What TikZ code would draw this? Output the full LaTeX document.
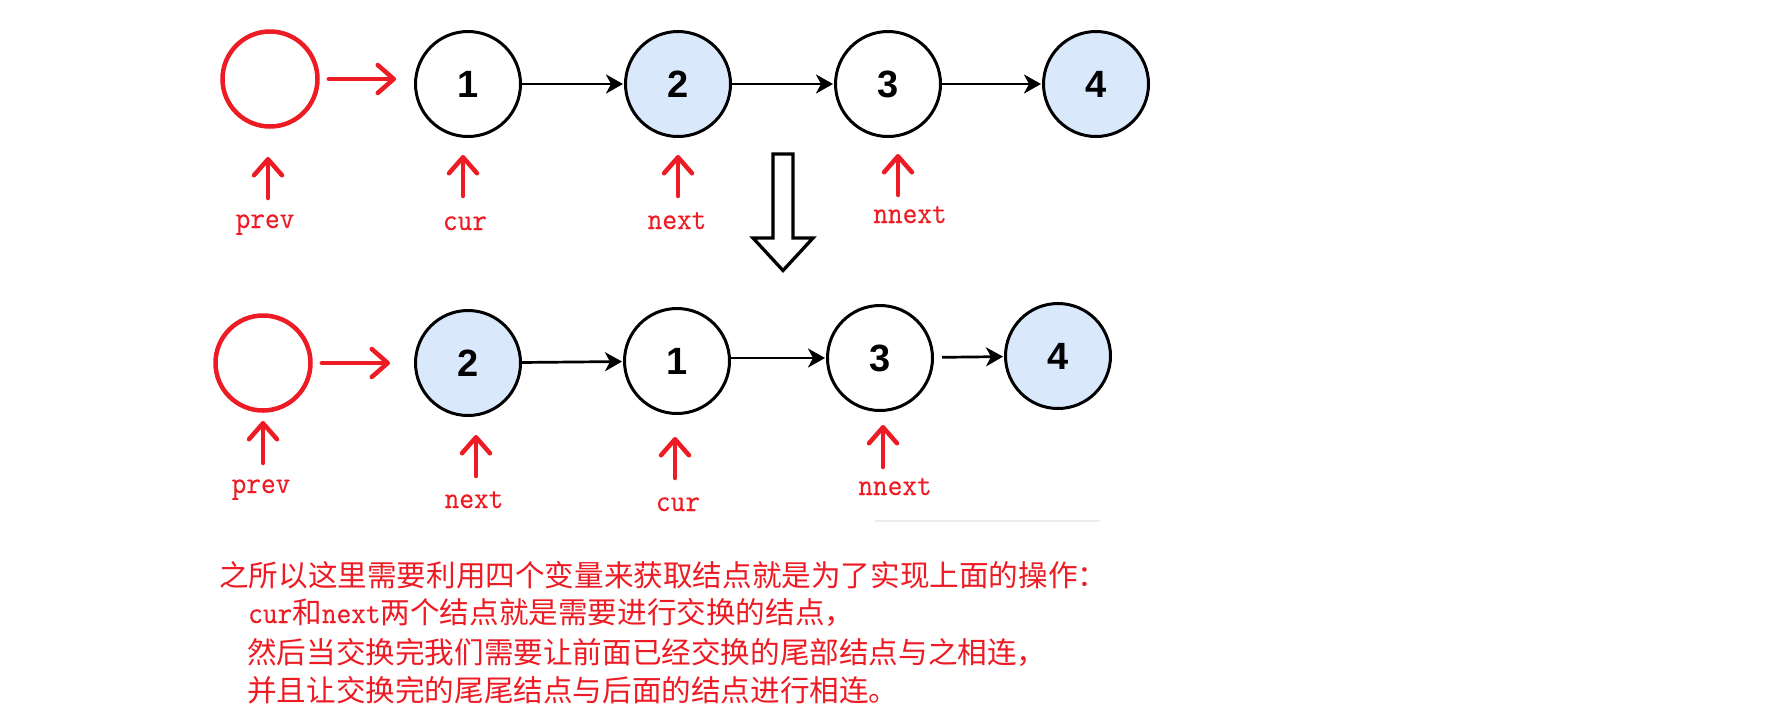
\documentclass[tikz,border=0pt]{standalone}
\usepackage{fontspec}
\newfontfamily\cjkfont{Noto Sans CJK SC}
\newfontfamily\monofont[FakeStretch=0.92,FakeBold=0.3]{Latin Modern Mono}
\newfontfamily\arialfont{Liberation Sans}
\usetikzlibrary{arrows.meta}
\definecolor{pred}{RGB}{237,28,36}
\definecolor{nblue}{HTML}{DAE8FC}
\newcommand{\lmono}{\monofont\fontsize{31}{31}\selectfont}
\begin{document}
\begin{tikzpicture}[x=1pt,y=-1pt,
  lnode/.style={circle,draw=black,line width=3pt,minimum size=105pt,inner sep=0pt,
    font=\arialfont\bfseries\fontsize{38}{38}\selectfont},
  bluenode/.style={lnode,fill=nblue},
  prevnode/.style={circle,draw=pred,line width=4.5pt,minimum size=95pt,inner sep=0pt},
  link/.style={line width=2.7pt,shorten >=1pt,-{Stealth[length=17pt,width=19pt,inset=5pt]}},
  redarr/.style={draw=pred,line width=4.5pt,line cap=round,
    -{Straight Barb[length=16pt,width=28pt,round]}},
  lbl/.style={text=pred,font=\lmono,anchor=base,inner sep=0pt},
  txt/.style={text=pred,font=\cjkfont\fontsize{29.6}{29.6}\selectfont,anchor=base west,inner sep=0pt}
]
\useasboundingbox (0,0) rectangle (1771,724);
\fill[white] (0,0) rectangle (1771,724);

% ---------- top row ----------
\node[prevnode] (p0) at (270,79) {};
\node[lnode]    (a1) at (468,84) {1};
\node[bluenode] (a2) at (678,84) {2};
\node[lnode]    (a3) at (888,84) {3};
\node[bluenode] (a4) at (1096,84) {4};

\draw[link] (a1) -- (a2);
\draw[link] (a2) -- (a3);
\draw[link] (a3) -- (a4);
\draw[redarr,shorten <=9pt,shorten >=18pt] (p0.east) -- (p0.east -| a1.west);

\node[lbl] (lp0)  at (265,228) {prev};
\node[lbl] (lc0)  at (465,230) {cur};
\node[lbl] (ln0)  at (677,229) {next};
\node[lbl] (lnn0) at (910,223) {nnext};

\coordinate (sp0) at (268,198);  \coordinate (ep0) at (268,157);
\coordinate (sc0) at (463,196);  \coordinate (ec0) at (463,155);
\coordinate (sn0) at (678,196);  \coordinate (en0) at (678,155);
\coordinate (snn0) at (898,195); \coordinate (enn0) at (898,154);
\draw[redarr] (sp0) -- (ep0);
\draw[redarr] (sc0) -- (ec0);
\draw[redarr] (sn0) -- (en0);
\draw[redarr] (snn0) -- (enn0);

% ---------- big hollow arrow ----------
\draw[line width=3.3pt,fill=white,line join=miter]
  (773,154) -- (793,154) -- (793,238) -- (813,238) -- (783,270.5)
  -- (753,238) -- (773,238) -- cycle;

% ---------- bottom row ----------
\node[prevnode] (p1) at (263,363) {};
\node[bluenode] (b2) at (468,363) {2};
\node[lnode]    (b1) at (677,361) {1};
\node[lnode]    (b3) at (880,358) {3};
\node[bluenode] (b4) at (1058,356) {4};

\draw[link] (b2) -- (b1);
\draw[link] (b1.east |- b3.west) -- (b3.west);
\draw[link,shorten <=8pt] (b3) -- (b4);
\draw[redarr,shorten <=9pt,shorten >=24pt] (p1.east) -- (p1.east -| b2.west);

\node[lbl] (lp1)  at (261,493) {prev};
\node[lbl] (ln1)  at (474,508) {next};
\node[lbl] (lc1)  at (678,511) {cur};
\node[lbl] (lnn1) at (895,495) {nnext};

\coordinate (sp1) at (263,463);  \coordinate (ep1) at (263,421);
\coordinate (sn1) at (476,476);  \coordinate (en1) at (476,435);
\coordinate (sc1) at (675,478);  \coordinate (ec1) at (675,437);
\coordinate (snn1) at (883,467); \coordinate (enn1) at (883,425);
\draw[redarr] (sp1) -- (ep1);
\draw[redarr] (sn1) -- (en1);
\draw[redarr] (sc1) -- (ec1);
\draw[redarr] (snn1) -- (enn1);

% faint crop line
\draw[gray!15,line width=2pt] (875,521) -- (1100,521);

% ---------- explanation text ----------
\node[txt] (t1) at (219,586) {之所以这里需要利用四个变量来获取结点就是为了实现上面的操作：};
\node[txt] (t2) at (248,623) {{\lmono cur}和{\lmono next}两个结点就是需要进行交换的结点，};
\node[txt] (t3) at (247,663) {然后当交换完我们需要让前面已经交换的尾部结点与之相连，};
\node[txt] (t4) at (247,701) {并且让交换完的尾尾结点与后面的结点进行相连。};
\end{tikzpicture}
\end{document}
